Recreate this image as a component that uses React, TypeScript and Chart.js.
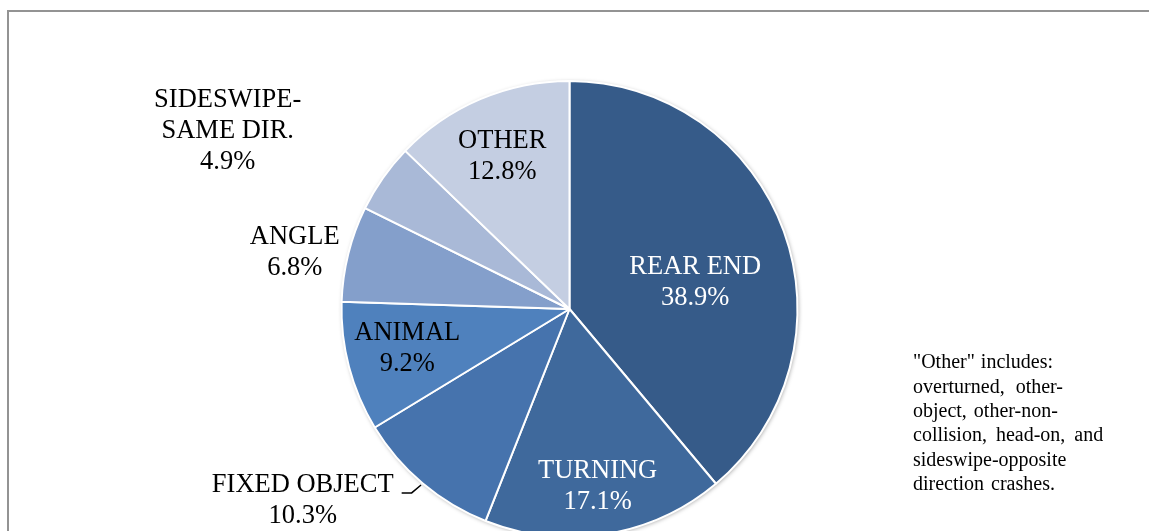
import React, { useEffect, useRef } from "react";
import { Chart, registerables } from "chart.js";

Chart.register(...registerables);

const categories = ["REAR END", "TURNING", "FIXED OBJECT", "ANIMAL", "ANGLE", "SIDESWIPE-SAME DIR.", "OTHER"];
const labelLines = [["REAR END"], ["TURNING"], ["FIXED OBJECT"], ["ANIMAL"], ["ANGLE"], ["SIDESWIPE-", "SAME DIR."], ["OTHER"]];
const shares = [38.9, 17.1, 10.3, 9.2, 6.8, 4.9, 12.8];
const shareLabels = ["38.9%", "17.1%", "10.3%", "9.2%", "6.8%", "4.9%", "12.8%"];
const sliceColors = ["#365B89", "#3F699C", "#4673AD", "#4F81BD", "#849FCB", "#A9B9D7", "#C4CEE2"];
const labelColors = ["#FFFFFF", "#FFFFFF", "#000000", "#000000", "#000000", "#000000", "#000000"];
// label placement: angle offset from slice middle (degrees) and distance as fraction of radius
const labelAngleOffset = [8.3, 0.2, 14.2, 0.9, -2.5, -7.6, -0.8];
const labelRadiusFrac = [0.563, 0.79, 1.44, 0.733, 1.23, 1.69, 0.73];
const leaderLines = [false, false, true, false, false, false, false];
const noteLines = [
  "\"Other\" includes:",
  "overturned, other-",
  "object, other-non-",
  "collision, head-on, and",
  "sideswipe-opposite",
  "direction crashes.",
];
const noteWordSpacing = [1, 6, 2, 4, 0, 2];

const SERIF = "'Liberation Serif', 'Times New Roman', serif";

const labelPlugin = {
  id: "sliceLabels",
  beforeDatasetsDraw(chart: any) {
    const meta = chart.getDatasetMeta(0);
    const arc = meta.data[0];
    if (!arc) return;
    const { x, y, outerRadius } = arc.getProps(["x", "y", "outerRadius"], true);
    const ctx = chart.ctx;
    ctx.save();
    ctx.shadowColor = "rgba(0,0,0,0.35)";
    ctx.shadowBlur = 4;
    ctx.shadowOffsetX = 1;
    ctx.shadowOffsetY = 1;
    ctx.fillStyle = "#ffffff";
    ctx.beginPath();
    ctx.arc(x, y, outerRadius, 0, Math.PI * 2);
    ctx.fill();
    ctx.restore();
  },
  afterDatasetsDraw(chart: any) {
    const ctx = chart.ctx;
    const meta = chart.getDatasetMeta(0);
    const lineH = 31;
    ctx.save();
    ctx.font = `26.5px ${SERIF}`;
    ctx.textAlign = "center";
    ctx.textBaseline = "middle";
    meta.data.forEach((el: any, i: number) => {
      const p = el.getProps(["x", "y", "startAngle", "endAngle", "outerRadius"], true);
      const mid = (p.startAngle + p.endAngle) / 2 + (labelAngleOffset[i] * Math.PI) / 180;
      const r = p.outerRadius * labelRadiusFrac[i];
      const cx = p.x + Math.cos(mid) * r;
      const cy = p.y + Math.sin(mid) * r;
      const lines = [...labelLines[i], shareLabels[i]];
      const n = lines.length;
      ctx.fillStyle = labelColors[i];
      lines.forEach((t, k) => {
        ctx.fillText(t, cx, cy + (k - (n - 1) / 2) * lineH);
      });
      if (leaderLines[i]) {
        const w = ctx.measureText(lines[0]).width;
        const y0 = cy - ((n - 1) / 2) * lineH + 8;
        const x0 = cx + w / 2 + 8;
        const x1 = x0 + 10;
        const m0 = (p.startAngle + p.endAngle) / 2;
        const ex = p.x + Math.cos(m0) * p.outerRadius * 1.01;
        const ey = p.y + Math.sin(m0) * p.outerRadius * 1.01;
        ctx.strokeStyle = "#000";
        ctx.lineWidth = 1.5;
        ctx.beginPath();
        ctx.moveTo(x0, y0);
        ctx.lineTo(x1, y0);
        ctx.lineTo(ex, ey);
        ctx.stroke();
      }
    });
    ctx.restore();
  },
  afterDraw(chart: any) {
    const ctx = chart.ctx;
    ctx.save();
    ctx.font = `20px ${SERIF}`;
    ctx.fillStyle = "#000";
    ctx.textAlign = "left";
    ctx.textBaseline = "middle";
    noteLines.forEach((t, k) => {
      (ctx as any).wordSpacing = `${noteWordSpacing[k]}px`;
      ctx.fillText(t, 913, 363 + k * 24.4);
    });
    ctx.restore();
  },
};

export default function App() {
  const ref = useRef<HTMLCanvasElement>(null);
  useEffect(() => {
    if (!ref.current) return;
    const chart = new Chart(ref.current, {
      type: "pie",
      data: {
        labels: categories,
        datasets: [
          {
            data: shares,
            backgroundColor: sliceColors,
            borderColor: "#ffffff",
            borderWidth: 2,
            radius: 228,
          } as any,
        ],
      },
      options: {
        animation: false,
        responsive: false,
        layout: { padding: { top: 87, bottom: 0, left: 0, right: 10 } },
        plugins: {
          legend: { display: false },
          tooltip: { enabled: false },
        },
      },
      plugins: [labelPlugin],
    });
    return () => chart.destroy();
  }, []);
  return (
    <div style={{ position: "fixed", left: 0, top: 0, width: 1149, height: 531, overflow: "hidden", background: "#fff" }}>
      <div
        style={{
          position: "absolute",
          left: 7,
          top: 10,
          width: 1300,
          height: 700,
          border: "2px solid #939393",
        }}
      />
      <canvas ref={ref} width={1149} height={531} style={{ position: "absolute", left: 0, top: 0, width: 1149, height: 531 }} />
    </div>
  );
}
